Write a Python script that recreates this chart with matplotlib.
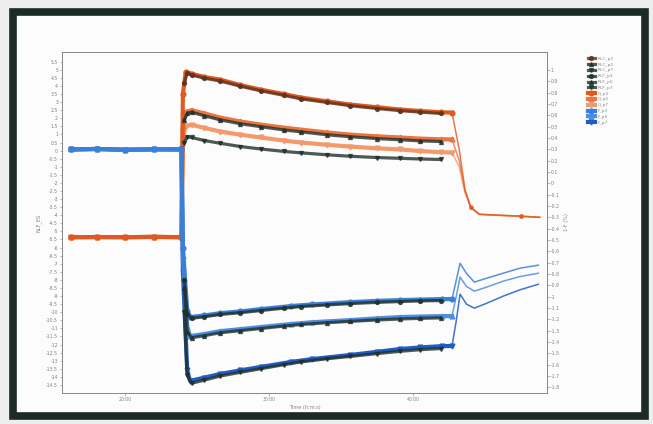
import matplotlib
matplotlib.use("Agg")
import matplotlib.pyplot as plt
import numpy as np
from matplotlib.patches import Rectangle
from matplotlib.ticker import FixedLocator, MultipleLocator

# ---------------- data (minutes, left-axis units) ----------------
t_g = [16.2, 18, 20, 22, 23.9, 24.0, 24.2, 24.6, 25.5, 26.6, 28, 29.4, 31, 32.2, 34,
       35.6, 37.5, 39.1, 40.5, 41.9, 42.7, 43.2, 43.6, 44.0, 44.6, 46.0, 47.5, 48.8]
G_p3 = [-5.36, -5.35, -5.36, -5.34, -5.36, 3.5, 4.88, 4.75, 4.55, 4.39, 4.05, 3.77, 3.50, 3.28, 3.05,
        2.85, 2.68, 2.54, 2.45, 2.37, 2.35, 0.07, -2.40, -3.51, -3.94, -4.00, -4.06, -4.13]
G_p5 = [-5.36, -5.35, -5.36, -5.34, -5.36, 1.5, 2.40, 2.50, 2.30, 2.04, 1.80, 1.61, 1.42, 1.30, 1.12,
        0.99, 0.88, 0.81, 0.74, 0.70, 0.69, -0.6, -2.5, -3.5, -3.94, -4.00, -4.06, -4.13]
G_p7 = [-5.36, -5.35, -5.36, -5.34, -5.36, 0.8, 1.50, 1.60, 1.40, 1.18, 0.98, 0.81, 0.62, 0.50, 0.36,
        0.25, 0.14, 0.07, -0.03, -0.10, -0.12, -1.0, -2.6, -3.55, -3.96, -4.02, -4.07, -4.13]

t_r = [24.1, 24.3, 24.6, 25.5, 26.6, 28, 29.4, 31, 32.2, 34, 35.6, 37.5, 39.1, 40.5, 41.9]
RLC_p3 = [4.2, 4.80, 4.68, 4.48, 4.30, 3.98, 3.70, 3.42, 3.20, 2.98, 2.78, 2.60, 2.47, 2.38, 2.30]
RLC_p5 = [1.9, 2.30, 2.38, 2.15, 1.90, 1.66, 1.48, 1.28, 1.16, 0.98, 0.86, 0.74, 0.67, 0.60, 0.56]
RLC_p7 = [0.5, 0.85, 0.81, 0.62, 0.45, 0.25, 0.10, -0.05, -0.14, -0.26, -0.35, -0.43, -0.48, -0.52, -0.55]
RLF_p3 = [-8.0, -10.1, -10.38, -10.28, -10.14, -10.03, -9.90, -9.75, -9.65, -9.55, -9.47, -9.39, -9.34, -9.30, -9.28]
RLF_p5 = [-8.5, -11.2, -11.58, -11.45, -11.27, -11.14, -11.01, -10.86, -10.76, -10.65, -10.57, -10.48, -10.42, -10.38, -10.35]
RLF_p7 = [-10.0, -13.9, -14.40, -14.20, -13.95, -13.72, -13.50, -13.25, -13.08, -12.88, -12.74, -12.56, -12.42, -12.32, -12.25]

t_f = [16.2, 18, 20, 22, 23.9, 24.0, 24.3, 24.5, 25.5, 26.6, 28, 29.4, 31.5, 33, 35.6, 37.5,
       39.1, 40.5, 42.0, 42.7, 43.0, 43.26, 43.7, 44.25, 45.1, 46.25, 47.4, 48.7]
F_p3 = [0.07, 0.10, 0.05, 0.08, 0.07, -6.0, -9.9, -10.30, -10.20, -10.06, -9.95, -9.81, -9.62, -9.52, -9.38, -9.30,
        -9.25, -9.22, -9.19, -9.19, -8.0, -6.97, -7.60, -8.14, -7.90, -7.59, -7.28, -7.09]
F_p5 = [0.07, 0.10, 0.05, 0.08, 0.07, -6.5, -10.9, -11.48, -11.35, -11.17, -11.05, -10.92, -10.73, -10.62, -10.49, -10.38,
        -10.30, -10.27, -10.24, -10.24, -9.0, -7.83, -8.40, -8.70, -8.45, -8.08, -7.80, -7.59]
F_p7 = [0.07, 0.10, 0.05, 0.08, 0.07, -7.5, -13.6, -14.25, -14.05, -13.82, -13.60, -13.39, -13.08, -12.90, -12.65, -12.45,
        -12.28, -12.18, -12.10, -12.09, -10.5, -8.88, -9.50, -9.75, -9.45, -9.01, -8.62, -8.27]

x_ticks = [20, 30, 40]
x_labels = ["20:00", "30:00", "40:00"]
left_ticks = [x / 2 for x in range(-29, 12)]
right_ticks = [x / 10 for x in range(-18, 11)]

# ---------------- figure ----------------
W, H = 653, 424
fig = plt.figure(figsize=(W / 100, H / 100), dpi=100, facecolor='#eceeed')
bg = fig.add_axes([0, 0, 1, 1], zorder=-5)
bg.set_xlim(0, W)
bg.set_ylim(H, 0)
bg.axis('off')
bg.add_patch(Rectangle((13, 12), 645 - 13, 416 - 12, facecolor='#fcfcfc',
                       edgecolor='#1d2b25', linewidth=5.5))

ax = fig.add_axes([62 / W, 1 - 393 / H, (547 - 62) / W, (393 - 52) / H], zorder=1)
ax.set_facecolor('none')

orange = ['#de5a22', '#ec7440', '#f39a6c']
blue = ['#3a7fd8', '#4d8ee0', '#1f5cc4']
dark = '#22302a'
mk = ['o', '^', 'v']
cut_g = t_g.index(42.7) + 1
cut_f = t_f.index(42.7) + 1

g_series = [('G_p3', G_p3), ('G_p5', G_p5), ('G_p7', G_p7)]
f_series = [('F_p3', F_p3), ('F_p5', F_p5), ('F_p7', F_p7)]
gl = [None] * 3
fl = [None] * 3
for i in (2, 1, 0):
    lab, y = g_series[i]
    ax.plot(t_g, y, color=orange[i], lw=1.1, alpha=0.8, zorder=2)
    ax.plot(t_g[cut_g - 1:], y[cut_g - 1:], color=orange[i], lw=0, marker=mk[i], ms=2.2,
            markevery=3, alpha=0.8, zorder=2)
    l, = ax.plot(t_g[:cut_g], y[:cut_g], color=orange[i], lw=3.0, marker=mk[i], ms=3.4,
                 mec=orange[i], zorder=2, label=lab)
    gl[i] = l
for i in (2, 1, 0):
    lab, y = f_series[i]
    ax.plot(t_f, y, color=blue[i], lw=1.1, alpha=0.85, zorder=2)
    l, = ax.plot(t_f[:cut_f], y[:cut_f], color=blue[i], lw=3.0, marker=mk[i], ms=3.4,
                 mec=blue[i], zorder=2, label=lab)
    fl[i] = l
rl = []
for i, (lab, y) in enumerate([('RLC_p3', RLC_p3), ('RLC_p5', RLC_p5), ('RLC_p7', RLC_p7)]):
    c = '#5a3420' if i == 0 else dark
    l, = ax.plot(t_r, y, color=c, lw=2.3, marker=mk[i], ms=2.8, alpha=0.8, zorder=3, label=lab)
    rl.append(l)
for i, (lab, y) in enumerate([('RLF_p3', RLF_p3), ('RLF_p5', RLF_p5), ('RLF_p7', RLF_p7)]):
    l, = ax.plot(t_r, y, color=dark, lw=2.3, marker=mk[i], ms=2.8, alpha=0.8, zorder=3, label=lab)
    rl.append(l)

ax.set_xlim(15.6, 49.3)
ax.set_ylim(-15.0, 6.1)
ax.xaxis.set_major_locator(FixedLocator(x_ticks))
ax.set_xticklabels(x_labels)
ax.xaxis.set_minor_locator(MultipleLocator(0.25))
ax.yaxis.set_major_locator(FixedLocator(left_ticks))
ax.set_yticklabels(['%g' % v for v in left_ticks])

gray = '#8a8a8a'
for s in ax.spines.values():
    s.set_color(gray)
    s.set_linewidth(0.7)
ax.tick_params(axis='both', which='major', labelsize=3.3, colors='#808080', length=1.8, width=0.4, pad=1)
ax.tick_params(axis='x', which='minor', length=1.0, width=0.3, colors='#999999')
ax.set_xlabel('Time (h:m:s)', fontsize=3.6, color='#808080', labelpad=2)
ax.set_ylabel('NLF_ES', fontsize=3.6, color='#808080', labelpad=3)

ax2 = ax.twinx()
ax2.set_ylim(-1.85, 1.16)
ax2.yaxis.set_major_locator(FixedLocator(right_ticks))
ax2.set_yticklabels(['%g' % v for v in right_ticks])
ax2.tick_params(axis='y', labelsize=3.3, colors='#808080', length=1.8, width=0.4, pad=1)
for s in ax2.spines.values():
    s.set_color(gray)
    s.set_linewidth(0.7)
ax2.set_ylabel('1-F (%)', fontsize=3.6, color='#808080', labelpad=3)

order = rl[:6] + gl + fl
leg = fig.legend(handles=order, labels=[l.get_label() for l in order],
                 loc='upper left', bbox_to_anchor=(586 / W, 1 - 55 / H), frameon=False,
                 fontsize=3.2, labelcolor='#888888', handlelength=1.6, handletextpad=0.6,
                 labelspacing=0.38, borderaxespad=0)

fig.savefig('out.png', dpi=100, facecolor=fig.get_facecolor())
